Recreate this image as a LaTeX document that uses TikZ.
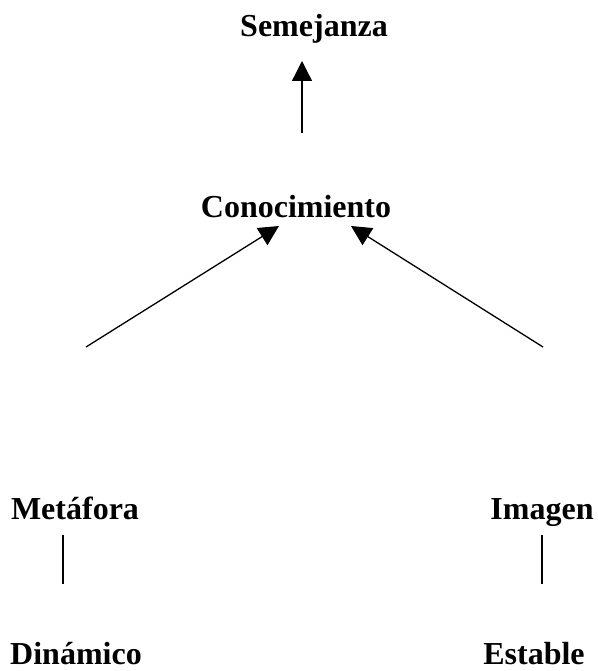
\documentclass[tikz,border=0pt]{standalone}
\usepackage{fontspec}
\setmainfont{Liberation Serif}
\usetikzlibrary{arrows.meta}
\begin{document}
\begin{tikzpicture}[x=1pt,y=-1pt,
  txt/.style={font=\fontsize{32}{38}\selectfont\bfseries,anchor=base,inner sep=0pt},
  flecha/.style={line width=1.3pt,-{Triangle[length=20pt,width=20pt]}},
  raya/.style={line width=1.3pt}]
\useasboundingbox (0,0) rectangle (597,671);
\node[txt](sem) at (314,37){Semejanza};
\node[txt](con) at (296,217){Conocimiento};
\node[txt](met) at (75,519){Metáfora};
\node[txt](ima) at (542,519){Imagen};
\node[txt](din) at (76,664){Dinámico};
\node[txt](est) at (534,664){Estable};
\coordinate(s1) at (302,133);
\coordinate(s2) at (302,61);
\coordinate(m1) at (86,347);
\coordinate(m2) at (279,226);
\coordinate(i1) at (543,347);
\coordinate(i2) at (351,226);
\coordinate(a1) at (63,535);
\coordinate(a2) at (63,584);
\coordinate(b1) at (542,535);
\coordinate(b2) at (542,584);
\draw[flecha](s1)--(s2);
\draw[flecha](m1)--(m2);
\draw[flecha](i1)--(i2);
\draw[raya](a1)--(a2);
\draw[raya](b1)--(b2);
\end{tikzpicture}
\end{document}
